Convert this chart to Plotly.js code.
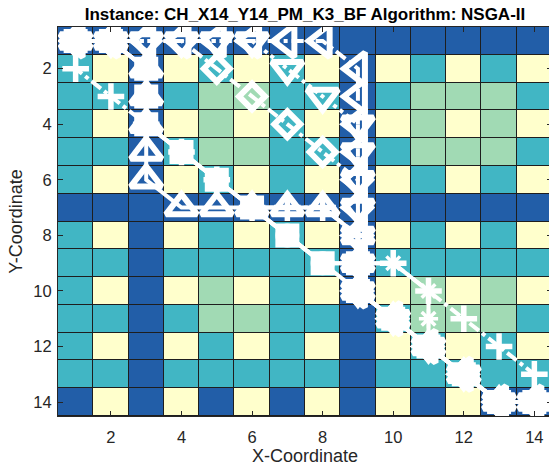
<!DOCTYPE html>
<html>
<head>
<meta charset="utf-8">
<script src="https://cdn.plot.ly/plotly-3.0.1.min.js"></script>
<style>
html,body{margin:0;padding:0;overflow:hidden;background:#fff;}
#wrap{width:549px;height:468px;overflow:hidden;}
#chart{width:552px;height:468px;}
</style>
</head>
<body>
<div id="wrap"><div id="chart"></div></div>
<script>
// Grid cell classes: 1 = dark blue, 2 = teal, 3 = green, 4 = light yellow
const xCells = [1,2,3,4,5,6,7,8,9,10,11,12,13,14];
const yCells = [1,2,3,4,5,6,7,8,9,10,11,12,13,14];
const gridRows = [
  [1,1,1,1,1,1,1,1,1,1,1,1,1,1],
  [2,4,1,4,2,4,2,4,1,4,2,4,2,4],
  [2,2,1,2,3,3,2,2,1,2,3,3,3,2],
  [2,4,1,4,3,4,2,4,1,4,3,4,3,4],
  [2,2,1,2,3,3,2,2,1,2,3,3,3,2],
  [2,4,1,4,2,4,2,4,1,4,2,4,2,4],
  [1,1,1,1,1,1,1,1,1,1,1,1,1,1],
  [2,4,1,4,2,4,2,4,1,4,2,4,2,4],
  [2,2,1,2,2,2,2,2,1,2,2,2,2,2],
  [2,4,1,4,3,4,2,4,1,4,3,4,3,4],
  [2,2,1,2,3,3,2,2,1,2,3,3,3,2],
  [2,4,1,4,2,4,2,4,1,4,2,4,2,4],
  [2,2,1,2,2,2,2,2,1,2,2,2,2,2],
  [1,4,1,4,1,4,1,4,1,4,1,4,1,1]
];
const tickValues = [2,4,6,8,10,12,14];

// Paths (Pareto solutions)
const pathCircleX  = [1,2,3,3,3,4,5,6,7,8,9,10,11,12,13,14];
const pathCircleY  = [1,1,2,3,4,5,6,7,8,9,10,11,12,13,14,14];
const pathPlusX    = [1,1,2,3,4,5,6,7,8,9,9,10,11,12,13,14,14];
const pathPlusY    = [1,2,3,4,5,6,7,7,7,8,9,9,10,11,12,13,14];
const pathStarX    = [1,2,3,3,3,4,5,6,7,8,9,10,11,11,11,12,13,14];
const pathStarY    = [1,1,2,3,4,5,6,7,8,9,9,9,10,11,12,13,14,14];
const pathSquareX  = [1,2,3,3,3,4,5,6,7,8,9,9,10,11,12,13,14];
const pathSquareY  = [1,1,2,3,4,5,6,7,8,9,9,10,11,12,13,14,14];
const pathDiamondX = [1,2,3,4,5,6,7,8,9,9,9,9,9,10,11,12,13,14];
const pathDiamondY = [1,1,1,1,2,3,4,5,6,7,8,9,10,11,12,13,14,14];
const pathUpX      = [1,2,3,3,3,3,3,4,5,6,7,8,9,9,9,10,11,12,13,14];
const pathUpY      = [1,1,2,3,4,5,6,7,7,7,7,7,8,9,10,11,12,13,14,14];
const pathDownX    = [1,2,3,4,5,6,7,8,9,9,9,9,9,9,9,10,11,12,13,14];
const pathDownY    = [1,1,1,1,1,1,2,3,4,5,6,7,8,9,10,11,12,13,14,14];
const pathLeftX    = [1,2,3,4,5,6,7,8,9,9,9,9,9,9,9,9,9,10,11,12,13,14];
const pathLeftY    = [1,1,1,1,1,1,1,1,2,3,4,5,6,7,8,9,10,11,12,13,14,14];

const W = 'white';
function pathTrace(x, y, symbol, size, dash, lw) {
  return {
    type: 'scatter', mode: 'lines+markers', x: x, y: y,
    line: {color: W, width: 4, dash: dash},
    marker: {symbol: symbol, size: size, color: W,
             line: {color: W, width: lw}},
    hoverinfo: 'skip', showlegend: false
  };
}

const heat = {
  type: 'heatmap', x: xCells, y: yCells, z: gridRows,
  zmin: 1, zmax: 4,
  colorscale: [
    [0, '#225ea8'], [0.25, '#225ea8'],
    [0.25, '#41b6c4'], [0.5, '#41b6c4'],
    [0.5, '#a1dab4'], [0.75, '#a1dab4'],
    [0.75, '#ffffcc'], [1, '#ffffcc']
  ],
  showscale: false, xgap: 1, ygap: 1, hoverinfo: 'skip'
};

const traces = [
  heat,
  pathTrace(pathCircleX, pathCircleY, 'circle-open', 18, 'solid', 6),
  pathTrace(pathStarX, pathStarY, 'asterisk-open', 16, 'solid', 3.5),
  pathTrace(pathPlusX, pathPlusY, 'cross-thin-open', 19, 'dashdot', 5.5),
  pathTrace(pathSquareX, pathSquareY, 'square', 19, 'solid', 5),
  pathTrace(pathDiamondX, pathDiamondY, 'diamond-open', 20, 'dashdot', 6),
  pathTrace(pathUpX, pathUpY, 'triangle-up-open', 27, 'solid', 6),
  pathTrace(pathDownX, pathDownY, 'triangle-down-open', 27, 'dot', 6),
  pathTrace(pathLeftX, pathLeftY, 'triangle-left-open', 28, 'dashdot', 6)
];

const FONT = 'Liberation Sans, Arial, sans-serif';
const axisCommon = {
  tickvals: tickValues, ticks: 'inside', ticklen: 5, tickwidth: 1,
  tickcolor: '#262626', showline: true, linecolor: '#262626', linewidth: 1,
  mirror: 'ticks', showgrid: false, zeroline: false,
  tickfont: {family: FONT, size: 16.5, color: '#262626'}
};

const layout = {
  width: 552, height: 468,
  margin: {l: 58, r: 0, t: 27, b: 52},
  paper_bgcolor: '#ffffff', plot_bgcolor: '#1e1e1e',
  title: {
    text: '<b>Instance: CH_X14_Y14_PM_K3_BF Algorithm: NSGA-II</b>',
    font: {family: FONT, size: 17, color: '#000'},
    x: 0.5, xref: 'paper', xanchor: 'center',
    y: 0.97, yref: 'container', yanchor: 'middle'
  },
  xaxis: Object.assign({}, axisCommon, {
    range: [0.5, 14.5], ticklabelstandoff: 6,
    title: {text: 'X-Coordinate', standoff: 2,
            font: {family: FONT, size: 18, color: '#262626'}}
  }),
  yaxis: Object.assign({}, axisCommon, {
    range: [14.5, 0.5], ticklabelstandoff: 2,
    title: {text: 'Y-Coordinate', standoff: 6,
            font: {family: FONT, size: 18, color: '#262626'}}
  })
};

Plotly.newPlot('chart', traces, layout, {displayModeBar: false, staticPlot: true});
</script>
</body>
</html>
